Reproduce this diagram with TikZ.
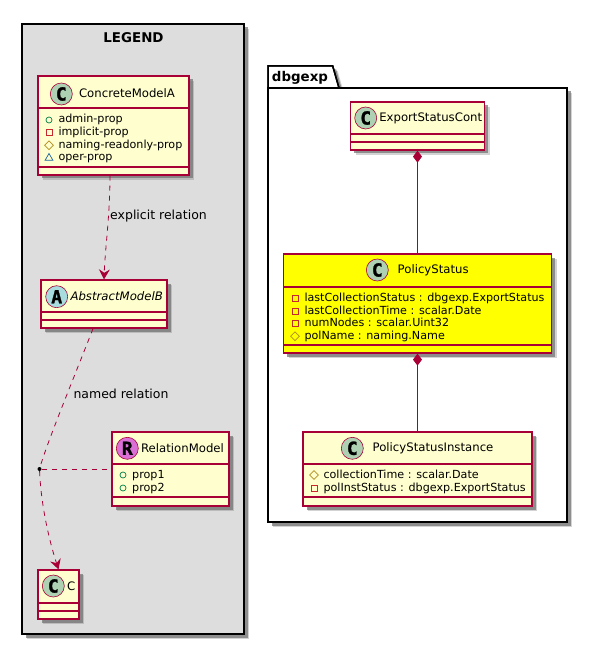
\documentclass[tikz,border=0pt]{standalone}
\usepackage{fontspec}
\setmainfont{DejaVu Sans}
\newfontfamily\spotfont[FakeBold=1.4]{DejaVu Sans Mono Bold}
\usepackage{xcolor}
\usepackage{tikz}
\usetikzlibrary{arrows.meta,shadows,shapes.geometric}
\definecolor{umlred}{HTML}{A80036}
\definecolor{umlfill}{HTML}{FEFECE}
\definecolor{umlshadow}{HTML}{707070}
\definecolor{umlyellow}{HTML}{FFFF00}
\definecolor{spotclass}{HTML}{ADD1B2}
\definecolor{spotabstract}{HTML}{A9DCDF}
\definecolor{spotrelation}{HTML}{DA70D6}
\definecolor{pubgreen}{HTML}{038048}
\definecolor{privred}{HTML}{C82930}
\definecolor{protoyellow}{HTML}{B38D22}
\definecolor{pkgblue}{HTML}{1963A0}

\begin{document}
\begin{tikzpicture}[
  x=1pt, y=-1pt,
  umlshade/.style={
    drop shadow={shadow xshift=5pt, shadow yshift=-5pt, fill=umlshadow, opacity=0.3},
    drop shadow={shadow xshift=3.5pt, shadow yshift=-3.5pt, fill=umlshadow, opacity=0.7}},
  frame/.style={draw=black, line width=1.5pt, umlshade},
  classbox/.style={draw=umlred, fill=umlfill, line width=1.3pt, umlshade, inner sep=0pt},
  divider/.style={draw=umlred, line width=1.3pt},
  spot/.style={circle, draw=umlred, line width=0.6pt, minimum size=22pt, inner sep=0pt, font=\spotfont\fontsize{18}{18}\selectfont},
  classname/.style={inner sep=0pt, font=\fontsize{11.7}{14}\selectfont},
  member/.style={anchor=west, inner sep=0pt, text height=8.5pt, text depth=2.5pt, font=\fontsize{11.15}{13}\selectfont},
  linklabel/.style={inner sep=0pt, font=\fontsize{12.5}{14}\selectfont},
  frametitle/.style={inner sep=0pt, font=\fontsize{13.4}{15}\selectfont\bfseries},
  pubicon/.style={circle, draw=pubgreen, minimum size=6pt, inner sep=0pt, line width=0.7pt},
  privicon/.style={rectangle, draw=privred, minimum size=6pt, inner sep=0pt, line width=0.7pt},
  protoicon/.style={diamond, draw=protoyellow, minimum size=9pt, inner sep=0pt, line width=0.7pt},
  pkgicon/.style={regular polygon, regular polygon sides=3, draw=pkgblue, minimum size=9pt, inner sep=0pt, line width=0.7pt},
  relation/.style={draw=umlred, line width=0.8pt, dash pattern=on 5pt off 5pt},
  openarrow/.style={-{Stealth[inset=3.5pt, length=10pt, width=11pt]}},
  composed/.style={draw=umlred, line width=0.9pt, {Diamond[length=12pt, width=9pt]}-}
]
\useasboundingbox (0,0) rectangle (600,660);

% legend
\node[frame, fill=black!13.5, minimum width=222pt, minimum height=610pt, inner sep=0pt] (legend) at (133,329) {};
\node[frametitle] (legendtitle) at (133.5,38) {LEGEND};

\node[classbox, minimum width=151pt, minimum height=99pt] (modela) at (113.5,125.5) {};
\draw[divider] (38,108) -- (189,108);
\draw[divider] (38,167) -- (189,167);
\node[spot, fill=spotclass] (spota) at (61.3,94) {C};
\node[classname] (namea) at (127,93.5) {ConcreteModelA};
\node[pubicon] (icona1) at (49,120) {};
\node[member] (mema1) at (58.3,120) {admin-prop};
\node[privicon] (icona2) at (49,132.7) {};
\node[member] (mema2) at (58.3,132.7) {implicit-prop};
\node[protoicon] (icona3) at (49,145.3) {};
\node[member] (mema3) at (58.3,145.3) {naming-readonly-prop};
\node[pkgicon] (icona4) at (49,158) {};
\node[member] (mema4) at (58.3,158) {oper-prop};

\node[classbox, minimum width=126pt, minimum height=48pt] (modelb) at (104,304) {};
\draw[divider] (41,312) -- (167,312);
\draw[divider] (41,320) -- (167,320);
\node[spot, fill=spotabstract] (spotb) at (56.7,296.7) {A};
\node[classname, font=\fontsize{11.7}{14}\selectfont\itshape] (nameb) at (116.7,296.5) {AbstractModelB};

\node[classbox, minimum width=117pt, minimum height=74pt] (relmodel) at (170.5,469) {};
\draw[divider] (112,464) -- (229,464);
\draw[divider] (112,497) -- (229,497);
\node[spot, fill=spotrelation] (spotr) at (127.3,448.3) {R};
\node[classname] (namer) at (182.5,448) {RelationModel};
\node[pubicon] (iconr1) at (123,475) {};
\node[member] (memr1) at (132,475) {prop1};
\node[pubicon] (iconr2) at (123,488) {};
\node[member] (memr2) at (132,488) {prop2};

\node[classbox, minimum width=41pt, minimum height=49pt] (modelc) at (58.5,594.5) {};
\draw[divider] (38,603) -- (79,603);
\draw[divider] (38,611) -- (79,611);
\node[spot, fill=spotclass] (spotc) at (53.3,586) {C};
\node[classname] (namec) at (71.3,586) {C};

\node[circle, fill=black, minimum size=4pt, inner sep=0pt] (reldot) at (39.5,469) {};

\draw[relation, openarrow] ([xshift=-3.5pt]modela.south) .. controls (110,215) and (105,250) .. (modelb.north);
\node[linklabel] (labela) at (158.5,216) {explicit relation};
\draw[relation] ([xshift=-11pt]modelb.south) .. controls (75,375) and (48,440) .. (reldot);
\node[linklabel] (labelb) at (121,394) {named relation};
\draw[relation, openarrow] (reldot) .. controls (41,505) and (49,540) .. (modelc.north);
\draw[relation] (reldot) -- (relmodel.west);

% package
\draw[frame, fill=white] (268,88) -- (268,66) -- (332.7,66) -- (339,88) -- cycle;
\node[frame, fill=white, minimum width=299pt, minimum height=434pt, inner sep=0pt] (dbgexp) at (417.5,305) {};
\draw[black, line width=1.5pt] (268,88) -- (268,66) -- (332.7,66) -- (339,88);
\node[frametitle] (pkgtitle) at (300,78) {dbgexp};

\node[classbox, minimum width=134pt, minimum height=48pt] (cont) at (417.5,126) {};
\draw[divider] (350.5,134) -- (484.5,134);
\draw[divider] (350.5,142) -- (484.5,142);
\node[spot, fill=spotclass] (spotcont) at (365.7,118) {C};
\node[classname] (namecont) at (430.7,118) {ExportStatusCont};

\node[classbox, fill=umlyellow, minimum width=268pt, minimum height=99pt] (policy) at (417.5,303.5) {};
\draw[divider] (283.5,287) -- (551.5,287);
\draw[divider] (283.5,345) -- (551.5,345);
\node[spot, fill=spotclass] (spotpol) at (377.3,270) {C};
\node[classname] (namepol) at (433.2,270) {PolicyStatus};
\node[privicon] (iconp1) at (295,298.3) {};
\node[member] (memp1) at (304.3,298.3) {lastCollectionStatus : dbgexp.ExportStatus};
\node[privicon] (iconp2) at (295,311) {};
\node[member] (memp2) at (304.3,311) {lastCollectionTime : scalar.Date};
\node[privicon] (iconp3) at (295,323.7) {};
\node[member] (memp3) at (304.3,323.7) {numNodes : scalar.Uint32};
\node[protoicon] (iconp4) at (295,336.3) {};
\node[member] (memp4) at (304.3,336.3) {polName : naming.Name};

\node[classbox, minimum width=229pt, minimum height=74pt] (inst) at (417.5,469) {};
\draw[divider] (303,464) -- (532,464);
\draw[divider] (303,497) -- (532,497);
\node[spot, fill=spotclass] (spotinst) at (352.3,448.3) {C};
\node[classname] (nameinst) at (433,448) {PolicyStatusInstance};
\node[protoicon] (iconi1) at (314,475) {};
\node[member] (memi1) at (323.3,475) {collectionTime : scalar.Date};
\node[privicon] (iconi2) at (314,488) {};
\node[member] (memi2) at (323.3,488) {polInstStatus : dbgexp.ExportStatus};

\draw[composed] (cont.south) -- (policy.north);
\draw[composed] (policy.south) -- (inst.north);
\end{tikzpicture}
\end{document}
